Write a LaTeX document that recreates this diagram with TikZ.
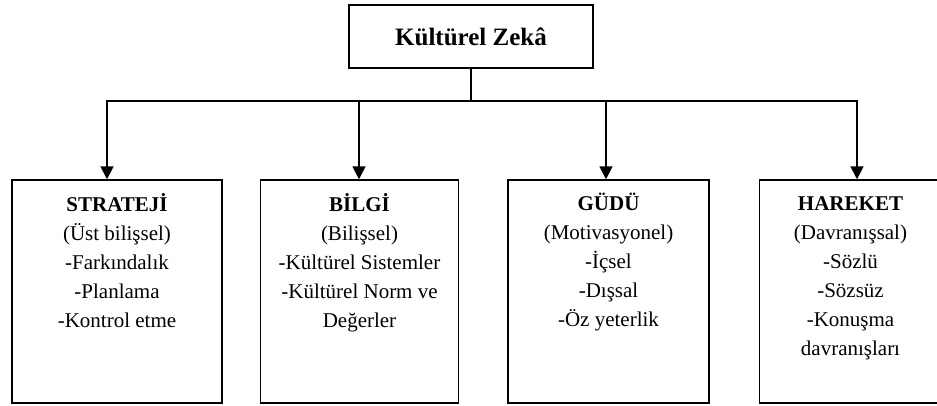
\documentclass[tikz,border=0pt]{standalone}
\usepackage{fontspec}
\setmainfont{Liberation Serif}
\usetikzlibrary{positioning, arrows.meta}

\begin{document}
\begin{tikzpicture}[
    x=1pt, y=-1pt,
    frame/.style={rectangle, draw, line width=1.5pt, minimum height=223pt, inner sep=0pt},
    headbox/.style={rectangle, draw, line width=1.5pt, minimum width=244pt, minimum height=63pt, font=\fontsize{25}{30}\selectfont\bfseries},
    body/.style={align=center, inner sep=0pt, font=\fontsize{21}{29}\selectfont},
    arrow/.style={-{Triangle[width=13pt,length=13pt]}, line width=1.8pt},
    link/.style={line width=1.8pt}
]
    \useasboundingbox (0,0) rectangle (937,405);

    \node[headbox] (zeka) at (471,36.5) {Kültürel Zekâ};

    \node[frame, minimum width=210pt] (strateji) at (117,291.5) {};
    \node[frame, minimum width=198pt, right=37pt of strateji] (bilgi) {};
    \node[frame, minimum width=201pt, right=48pt of bilgi] (gudu) {};
    \node[frame, minimum width=186pt, right=49pt of gudu] (hareket) {};

    \node[body, below=14pt of strateji.north] (stratejitext) {\textbf{STRATEJİ}\\(Üst bilişsel)\\-Farkındalık\\-Planlama\\-Kontrol etme};
    \node[body, below=14pt of bilgi.north] (bilgitext) {\textbf{BİLGİ}\\(Bilişsel)\\-Kültürel Sistemler\\-Kültürel Norm ve\\Değerler};
    \node[body, below=14pt of gudu.north] (gudutext) {\textbf{GÜDÜ}\\(Motivasyonel)\\-İçsel\\-Dışsal\\-Öz yeterlik};
    \node[body, below=17pt of hareket.north, xshift=-2pt] (harekettext) {\textbf{HAREKET}\\(Davranışsal)\\-Sözlü\\-Sözsüz\\-Konuşma\\davranışları};

    \draw[link] (zeka.south) -- ++(0,32) coordinate (bus);
    \draw[arrow] (bus) -| ([xshift=-10pt]strateji.north);
    \draw[arrow] (bus) -| ([xshift=-0.5pt]bilgi.north);
    \draw[arrow] (bus) -| ([xshift=-2.5pt]gudu.north);
    \draw[arrow] (bus) -| ([xshift=4.5pt]hareket.north);
\end{tikzpicture}
\end{document}
